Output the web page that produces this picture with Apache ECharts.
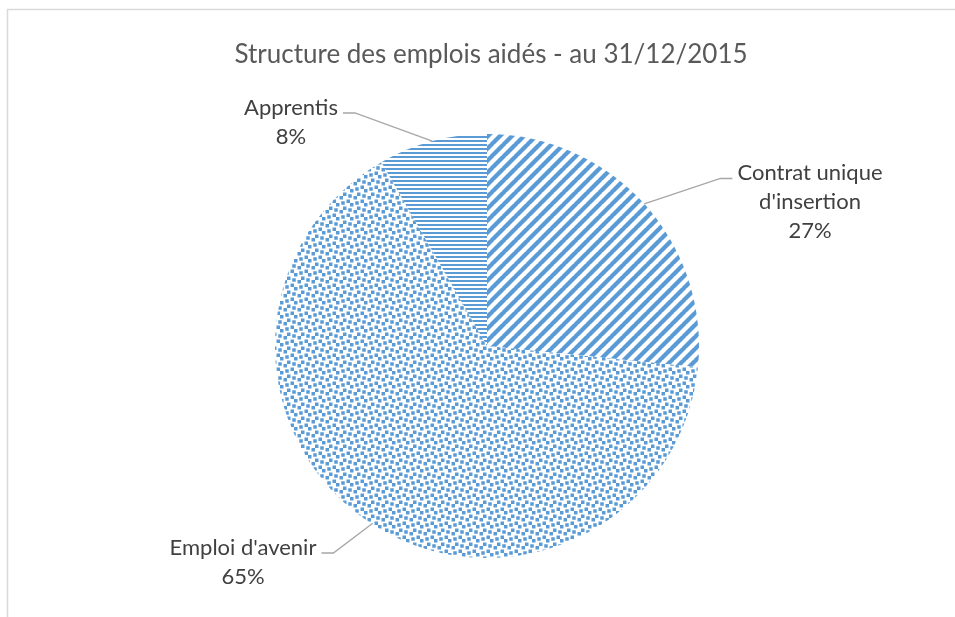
<!DOCTYPE html>
<html>
<head>
<meta charset="utf-8">
<script src="https://cdn.jsdelivr.net/npm/echarts@6/dist/echarts.min.js"></script>
<style>
html, body { margin: 0; padding: 0; background: #fff; }
#chart { width: 955px; height: 617px; }
</style>
</head>
<body>
<div id="chart"></div>
<script>
var chartTitle = 'Structure des emplois aidés - au 31/12/2015';
var categories = ['Contrat unique\nd\'insertion', 'Emploi d\'avenir', 'Apprentis'];
var values = [26.6, 65.1, 8.3];

var blue = '#5b9bd5';
var fontName = 'Lato';

// petites tuiles de motif (hachures excel 8x8, agrandies)
function makeTile(size, draw) {
	var c = document.createElement('canvas');
	c.width = size;
	c.height = size;
	var ctx = c.getContext('2d');
	ctx.fillStyle = '#fff';
	ctx.fillRect(0, 0, size, size);
	ctx.fillStyle = blue;
	ctx.strokeStyle = blue;
	draw(ctx, size);
	return c;
}
// diagonale large vers le haut
var diagTile = makeTile(12, function(ctx, s) {
	ctx.lineWidth = 4.3;
	ctx.beginPath();
	for (var k = -1; k <= 1; k++) {
		ctx.moveTo(k * s - 1, s + 1);
		ctx.lineTo(k * s + s + 1, -1);
	}
	ctx.stroke();
});
// grands confettis
var confetti = [[2, 0], [7, 7], [6, 2], [3, 3], [0, 4], [4, 6]];
var checkTile = makeTile(14, function(ctx, s) {
	ctx.scale(s / 8, s / 8);
	for (var i = 0; i < confetti.length; i++) {
		var x = confetti[i][0], y = confetti[i][1];
		// les carrés qui débordent reviennent de l'autre côté
		for (var dx = -8; dx <= 0; dx += 8) {
			for (var dy = -8; dy <= 0; dy += 8) {
				ctx.fillRect(x + dx, y + dy, 2, 2);
			}
		}
	}
});
// lignes horizontales
var hlineTile = makeTile(4, function(ctx) {
	ctx.fillRect(0, 0, 4, 2);
});
var tiles = [diagTile, checkTile, hlineTile];

// centre des étiquettes (comme dans excel)
var labelCenters = [[810, 202], [243, 562], [291, 122]];
var pieCenter = [487, 346];

var myChart = echarts.init(document.getElementById('chart'));
var pieData = [];
for (var i = 0; i < categories.length; i++) {
	pieData.push({
		name: categories[i],
		value: values[i],
		itemStyle: { color: { image: tiles[i], repeat: 'repeat' } }
	});
}

var option = {
	animation: false,
	backgroundColor: '#fff',
	graphic: [{
		type: 'rect',
		z: -10,
		silent: true,
		shape: { x: 7.5, y: 9.5, width: 1200, height: 1200 },
		style: { fill: 'none', stroke: '#d9d9d9', lineWidth: 1.5 }
	}],
	title: {
		text: chartTitle,
		left: 486,
		top: 37,
		textAlign: 'center',
		textStyle: { fontFamily: fontName, fontSize: 26, fontWeight: 'normal', color: '#595959' }
	},
	series: [{
		type: 'pie',
		center: pieCenter,
		radius: 212,
		startAngle: 90,
		clockwise: true,
		avoidLabelOverlap: false,
		itemStyle: { borderWidth: 0 },
		label: {
			show: true,
			position: 'outside',
			fontFamily: fontName,
			fontSize: 22,
			lineHeight: 29,
			color: '#404040',
			formatter: function(p) {
				return p.name + '\n' + Math.round(p.percent) + '%';
			}
		},
		labelLine: {
			show: true,
			lineStyle: { color: '#a6a6a6', width: 1.3 }
		},
		labelLayout: function(params) {
			var c = labelCenters[params.dataIndex];
			var r = params.labelRect;
			var onRight = c[0] > pieCenter[0];
			var sideX = onRight ? c[0] - r.width / 2 - 5 : c[0] + r.width / 2 + 5;
			var anchorY = c[1] - r.height / 2 + 20;
			var p0 = params.labelLinePoints ? params.labelLinePoints[0] : [sideX, anchorY];
			return {
				x: c[0],
				y: c[1],
				align: 'center',
				verticalAlign: 'middle',
				labelLinePoints: [p0, [onRight ? sideX - 12 : sideX + 12, anchorY], [sideX, anchorY]]
			};
		},
		data: pieData
	}]
};
myChart.setOption(option);
</script>
</body>
</html>
